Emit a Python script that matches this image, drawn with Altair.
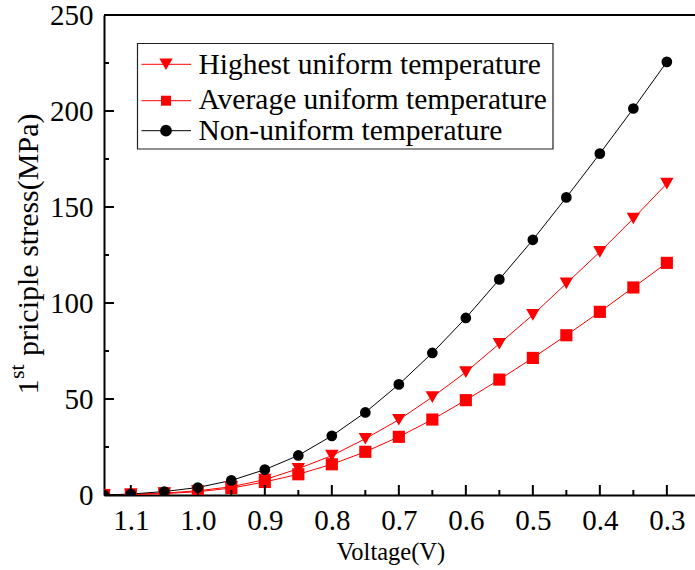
import altair as alt
import pandas as pd

# Cell voltage (V) and first principal stress (MPa) for each temperature case
voltage = [1.14, 1.10, 1.05, 1.00, 0.95, 0.90, 0.85, 0.80, 0.75, 0.70,
           0.65, 0.60, 0.55, 0.50, 0.45, 0.40, 0.35, 0.30]
highest_uniform = [0.0, 0.3, 1.0, 2.2, 4.3, 8.0, 13.7, 20.5, 29.3, 39.2,
                   51.0, 64.0, 78.8, 93.8, 110.2, 126.6, 144.0, 162.2]
average_uniform = [0.0, 0.2, 0.7, 1.7, 3.6, 6.8, 10.8, 16.0, 22.5, 30.3,
                   39.3, 49.4, 60.1, 71.4, 83.2, 95.4, 108.1, 120.9]
non_uniform = [0.0, 0.5, 1.8, 3.9, 7.6, 13.2, 20.6, 30.8, 43.0, 57.6,
               74.0, 92.2, 112.3, 132.9, 155.0, 177.8, 201.3, 225.6]

series_names = ["Highest uniform temperature",
                "Average uniform temperature",
                "Non-uniform temperature"]
series_values = [highest_uniform, average_uniform, non_uniform]
series_colors = ["#ff0000", "#ff0000", "#000000"]
series_shapes = ["triangle-down", "square", "circle"]
series_sizes = [180, 115, 150]

x_major = [1.1, 1.0, 0.9, 0.8, 0.7, 0.6, 0.5, 0.4, 0.3]
x_minor = [1.05, 0.95, 0.85, 0.75, 0.65, 0.55, 0.45, 0.35]
y_major = [0, 50, 100, 150, 200, 250]
y_minor = [25, 75, 125, 175, 225]

FONT = "Liberation Serif"
W, H = 591, 480

rows = []
for name, vals in zip(series_names, series_values):
    for v, s in zip(voltage, vals):
        rows.append({"series": name, "voltage": v, "stress": s})
df = pd.DataFrame(rows)

x_scale = alt.Scale(domain=[0.258, 1.14], reverse=True, nice=False, zero=False)
y_scale = alt.Scale(domain=[0, 250], nice=False, zero=False)

x_axis = alt.Axis(values=x_major, format=".1f", title=None, grid=False,
                  ticks=False, labelFontSize=29, labelPadding=11,
                  labelFlush=False, domainColor="black", domainWidth=2,
                  labelFont=FONT, labelColor="black")
y_axis = alt.Axis(values=y_major, format="d", title=None, grid=False,
                  ticks=False, labelFontSize=29, labelPadding=11,
                  labelFlush=False, domainColor="black", domainWidth=2,
                  labelFont=FONT, labelColor="black")

color = alt.Color("series:N", scale=alt.Scale(domain=series_names, range=series_colors), legend=None)
shape = alt.Shape("series:N", scale=alt.Scale(domain=series_names, range=series_shapes), legend=None)
size = alt.Size("series:N", scale=alt.Scale(domain=series_names, range=series_sizes), legend=None)

base = alt.Chart(df)
lines = base.mark_line(strokeWidth=1, clip=True).encode(
    x=alt.X("voltage:Q", scale=x_scale, axis=x_axis),
    y=alt.Y("stress:Q", scale=y_scale, axis=y_axis),
    color=color,
    detail="series:N",
)
points = base.mark_point(filled=True, opacity=1, strokeWidth=0, clip=True).encode(
    x=alt.X("voltage:Q", scale=x_scale, axis=x_axis),
    y=alt.Y("stress:Q", scale=y_scale, axis=y_axis),
    color=color,
    shape=shape,
    size=size,
)

# Inward-pointing tick marks
def x_ticks(vals, length):
    return alt.Chart(pd.DataFrame({"voltage": vals})).mark_rule(
        color="black", strokeWidth=2).encode(
        x=alt.X("voltage:Q", scale=x_scale, axis=x_axis),
        y=alt.value(H), y2=alt.value(H - length))

def y_ticks(vals, length):
    return alt.Chart(pd.DataFrame({"stress": vals})).mark_rule(
        color="black", strokeWidth=2).encode(
        y=alt.Y("stress:Q", scale=y_scale, axis=y_axis),
        x=alt.value(0), x2=alt.value(length))

one = pd.DataFrame({"k": [0]})

top_border = alt.Chart(one).mark_rule(color="black", strokeWidth=2).encode(
    x=alt.value(0), x2=alt.value(W), y=alt.value(0))

# Axis titles
x_title = alt.Chart(one).mark_text(
    text="Voltage(V)", font=FONT, fontSize=24.5, align="center",
    baseline="alphabetic", color="black").encode(
    x=alt.value(287), y=alt.value(545))

y_title_parts = [
    alt.Chart(one).mark_text(text="1", font=FONT, fontSize=30, angle=270,
                             align="left", baseline="alphabetic", color="black"
                             ).encode(x=alt.value(-66), y=alt.value(379.5)),
    alt.Chart(one).mark_text(text="st", font=FONT, fontSize=22, angle=270,
                             align="left", baseline="alphabetic", color="black"
                             ).encode(x=alt.value(-80.5), y=alt.value(364)),
    alt.Chart(one).mark_text(text="priciple stress(MPa)", font=FONT, fontSize=30,
                             angle=270, align="left", baseline="alphabetic",
                             color="black"
                             ).encode(x=alt.value(-66), y=alt.value(341)),
]

# Legend box with line + marker samples
legend_layers = [
    alt.Chart(one).mark_rect(fill="white", stroke="#222222", strokeWidth=1.2).encode(
        x=alt.value(33.5), x2=alt.value(449), y=alt.value(28.5), y2=alt.value(134))
]
row_line_y = [49.3, 85.7, 115.7]
row_text_y = [58.6, 93.6, 125.2]
legend_sizes = [177, 100, 137]
for name, col, shp, lsz, ly, ty in zip(series_names, series_colors, series_shapes,
                                       legend_sizes, row_line_y, row_text_y):
    legend_layers.append(alt.Chart(one).mark_rule(color=col, strokeWidth=1).encode(
        x=alt.value(37.5), x2=alt.value(87), y=alt.value(ly)))
    legend_layers.append(alt.Chart(one).mark_point(
        filled=True, opacity=1, strokeWidth=0, color=col, shape=shp, size=lsz).encode(
        x=alt.value(62), y=alt.value(ly)))
    legend_layers.append(alt.Chart(one).mark_text(
        text=name, font=FONT, fontSize=29.5, align="left", baseline="alphabetic",
        color="black").encode(x=alt.value(94.5), y=alt.value(ty)))

chart = alt.layer(
    lines, points,
    x_ticks(x_major, 10), x_ticks(x_minor, 5),
    y_ticks(y_major, 10), y_ticks(y_minor, 5),
    top_border, x_title, *y_title_parts, *legend_layers,
).properties(
    width=W, height=H,
    padding={"left": 104, "top": 15, "right": 0, "bottom": 75},
    autosize=alt.AutoSizeParams(type="none"),
).configure_view(stroke=None).configure(background="white")

chart.save("out.html", embed_options={"renderer": "svg", "actions": False})
